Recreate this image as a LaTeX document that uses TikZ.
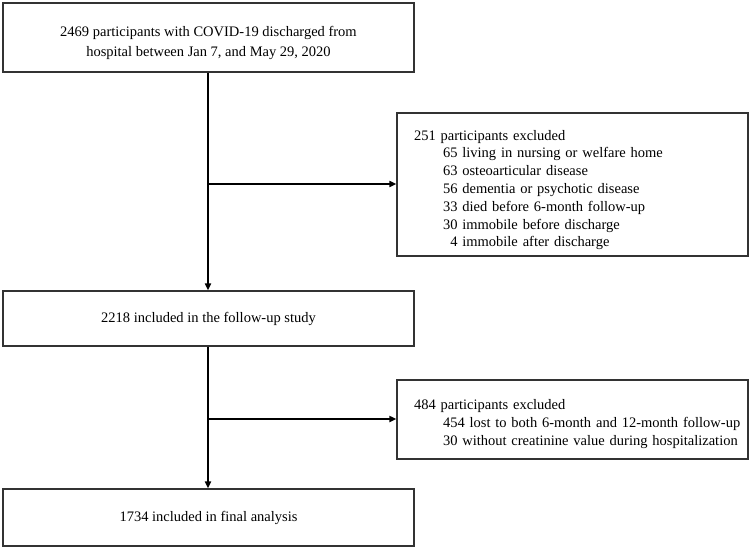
\documentclass[tikz,border=0pt]{standalone}
\usepackage{fontspec}
\setmainfont{Liberation Serif}
\usetikzlibrary{arrows.meta}
\begin{document}
\begin{tikzpicture}[x=1pt,y=-1pt,
  box/.style={draw=black!80,line width=1.2pt,rectangle,inner sep=0pt,font=\fontsize{14.5}{17.8}\selectfont},
  mainbox/.style={box,minimum width=411pt,align=center},
  exbox/.style={box,minimum width=351pt,text width=351pt,align=left},
  conn/.style={line width=1.8pt,-{Triangle[length=7pt,width=6pt]}}]
\useasboundingbox (0,0) rectangle (750,550);
\node[mainbox,minimum height=69pt] (b1) at (208.5,37.5) {\rule{0pt}{21pt}2469 participants with COVID-19 discharged from\\[2.2pt]hospital between Jan 7, and May 29, 2020};
\node[exbox,minimum height=143pt] (b2) at (572.5,184.5) {\rule{0pt}{21pt}\hspace*{17pt}251 participants excluded\\
\hspace*{46pt}65 living in nursing or welfare home\\
\hspace*{46pt}63 osteoarticular disease\\
\hspace*{46pt}56 dementia or psychotic disease\\
\hspace*{46pt}33 died before 6-month follow-up\\
\hspace*{46pt}30 immobile before discharge\\
\hspace*{46pt}\phantom{3}4 immobile after discharge};
\node[mainbox,minimum height=55pt] (b3) at (208.5,318.5) {2218 included in the follow-up study};
\node[exbox,minimum height=79pt] (b4) at (572.5,419.5) {\rule{0pt}{19pt}\hspace*{17pt}484 participants excluded\\
\hspace*{46pt}454 lost to both 6-month and 12-month follow-up\\
\hspace*{46pt}30 without creatinine value during hospitalization};
\node[mainbox,minimum height=57pt] (b5) at (208.5,517.5) {1734 included in final analysis};
\coordinate (j1) at (208,184);
\coordinate (j2) at (208,419);
\draw[conn] (b1.south -| j1) -- (b3.north -| j1);
\draw[conn] (j1) -- (b2.west |- j1);
\draw[conn] (b3.south -| j2) -- (b5.north -| j2);
\draw[conn] (j2) -- (b4.west |- j2);
\end{tikzpicture}
\end{document}
